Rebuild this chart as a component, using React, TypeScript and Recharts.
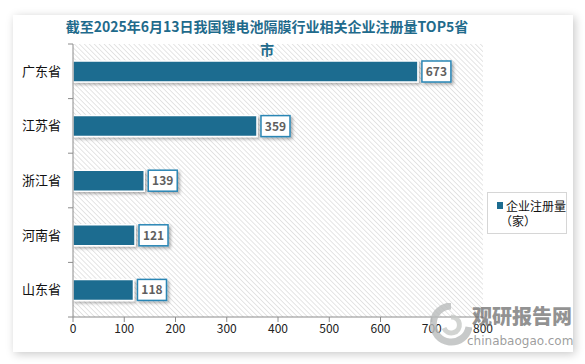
import { Bar, BarChart, CartesianGrid, LabelList, XAxis, YAxis } from "recharts";

const provinces = ["广东省", "江苏省", "浙江省", "河南省", "山东省"];
const companies = [673, 359, 139, 121, 118];
const xTicks = [0, 100, 200, 300, 400, 500, 600, 700, 800];

const data = provinces.map((name, i) => ({ name, value: companies[i] }));

const TEAL = "#1d6c90";
const AXIS = "#8c8c8c";

function ProvinceTick(props: any) {
  const { x, y, payload, index } = props;
  const half = payload && payload.offset ? payload.offset : 27.3;
  const ax = x + 8;
  return (
    <g>
      <text x={x - 4} y={y} dy={4.5} textAnchor="end" fontSize={13} fill="#111">
        {payload.value}
      </text>
      <line x1={ax - 5} x2={ax} y1={y - half} y2={y - half} stroke={AXIS} />
      {index === provinces.length - 1 && (
        <line x1={ax - 5} x2={ax} y1={y + half} y2={y + half} stroke={AXIS} />
      )}
    </g>
  );
}

function ValueBox(props: any) {
  const { x, y, width, height, value } = props;
  const bx = x + width + 4;
  const bw = String(value).length * 8 + 5;
  return (
    <g>
      <rect x={bx} y={y} width={bw} height={height} fill="#fff" stroke="#2a86b5" strokeWidth={1.5} filter="url(#shadow)" />
      <text x={bx + bw / 2} y={y + height / 2} dy={4.5} textAnchor="middle" fontSize={12} fontWeight={700} fill="#5f5f5f">
        {value}
      </text>
    </g>
  );
}

export default function App() {
  return (
    <div style={{ position: "absolute", left: 0, top: 0, width: 585, height: 364, background: "#fff", overflow: "hidden", fontFamily: "'Noto Sans CJK SC', sans-serif" }}>
      <div style={{ position: "absolute", left: 13, top: 15, width: 560, height: 337, background: "#fff", boxShadow: "2px 2px 9px rgba(0,0,0,0.22)" }} />
      <div style={{ position: "absolute", left: 0, top: 0 }}>
        <BarChart width={585} height={364} layout="vertical" data={data} margin={{ top: 44, right: 102, bottom: 17, left: 5 }} barSize={21}>
          <defs>
            <pattern id="hatch" width={3.5} height={3.5} patternUnits="userSpaceOnUse" patternTransform="rotate(-45)">
              <rect width={3.5} height={3.5} fill="#fff" />
              <line x1={0} y1={0} x2={0} y2={3.5} stroke="#d4d4d4" strokeWidth={1.2} />
            </pattern>
            <filter id="shadow" x="-20%" y="-30%" width="150%" height="180%">
              <feDropShadow dx={2} dy={2} stdDeviation={1.5} floodColor="#000" floodOpacity={0.3} />
            </filter>
          </defs>
          <CartesianGrid horizontal={false} vertical={false} fill="url(#hatch)" />
          <XAxis type="number" domain={[0, 800]} ticks={xTicks} height={30} tick={{ fontSize: 12, fill: "#222" }} stroke={AXIS} tickSize={5} />
          <YAxis type="category" dataKey="name" width={68} tick={<ProvinceTick />} tickLine={false} stroke={AXIS} />
          <Bar dataKey="value" name="企业注册量（家）" fill={TEAL} stroke="#fff" strokeWidth={1.5} filter="url(#shadow)" isAnimationActive={false}>
            <LabelList dataKey="value" content={<ValueBox />} />
          </Bar>
        </BarChart>
      </div>
      <div style={{ position: "absolute", left: 487, top: 192, border: "1px solid #d6d6d6", width: 80, height: 42, boxSizing: "border-box", padding: "5px 0 0 9px", fontSize: 12, lineHeight: "15px", color: "#111", whiteSpace: "nowrap" }}>
        <div style={{ display: "flex", alignItems: "center" }}>
          <span style={{ display: "inline-block", width: 6, height: 7, background: TEAL, marginRight: 3 }} />
          企业注册量
        </div>
        <div style={{ paddingLeft: 3 }}>（家）</div>
      </div>
      <div style={{ position: "absolute", left: 50, top: 15, width: 434, textAlign: "center", color: "#1f6b8c", fontWeight: 700, fontSize: 14, lineHeight: "23px", whiteSpace: "nowrap" }}>
        截至2025年6月13日我国锂电池隔膜行业相关企业注册量TOP5省
        <br />市
      </div>
      <svg style={{ position: "absolute", left: 430, top: 303 }} width={42} height={44}>
        <path d="M21 3 A18 18 0 1 0 39 24" fill="none" stroke="#b9bcbc" strokeWidth={7} opacity={0.8} />
        <path d="M21 14 A8 8 0 1 1 14 25" fill="none" stroke="#c7c9c7" strokeWidth={5} opacity={0.8} />
      </svg>
      <div style={{ position: "absolute", left: 472, top: 303, fontSize: 20, lineHeight: "26px", fontWeight: 900, color: "rgba(110,110,110,0.75)", whiteSpace: "nowrap" }}>观研报告网</div>
      <div style={{ position: "absolute", left: 467, top: 333, fontSize: 12, lineHeight: "16px", color: "rgba(140,140,140,0.85)", fontFamily: "'DejaVu Sans', sans-serif", whiteSpace: "nowrap" }}>chinabaogao.com</div>
    </div>
  );
}
